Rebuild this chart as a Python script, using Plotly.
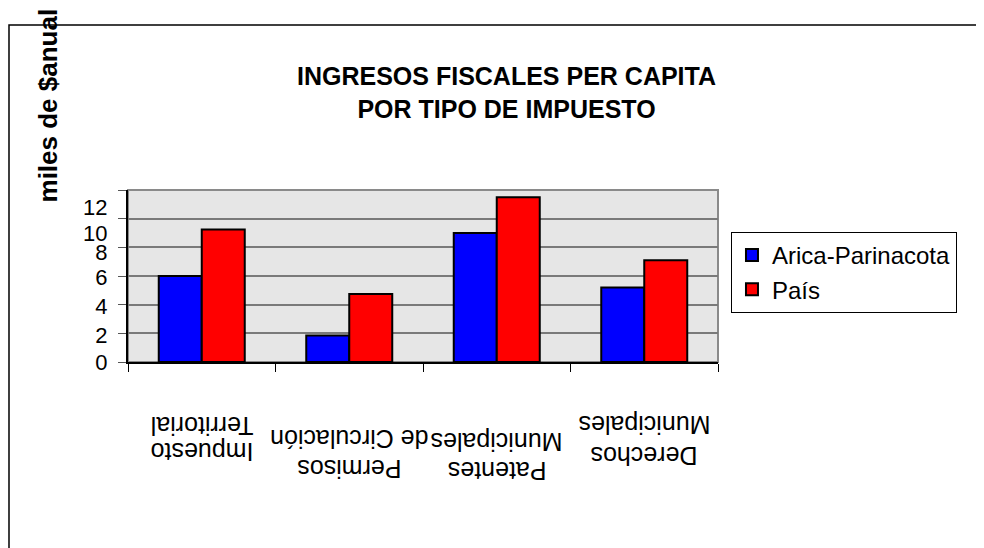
import plotly.graph_objects as go

# ---- data ----
categories = ["Impuesto Territorial", "Permisos de Circulación",
              "Patentes Municipales", "Derechos Municipales"]
series_names = ["Arica-Parinacota", "País"]
arica_values = [6.0, 1.85, 9.0, 5.2]
pais_values = [9.25, 4.75, 11.5, 7.1]
y_ticks = [0, 2, 4, 6, 8, 10, 12]
y_tick_labels = ["0", "2", "4", "6", "8", "10", "12"]
title_text = "INGRESOS FISCALES PER CAPITA<br>POR TIPO DE IMPUESTO"
y_title = "miles de $anual"

FONT = "Liberation Sans, Arial, sans-serif"

fig = go.Figure()
fig.add_trace(go.Bar(x=categories, y=arica_values, name=series_names[0],
                     marker=dict(color="#0000FF", line=dict(color="black", width=2))))
fig.add_trace(go.Bar(x=categories, y=pais_values, name=series_names[1],
                     marker=dict(color="#FF0000", line=dict(color="black", width=2))))

# the reference draws its tick labels slightly off the gridlines
label_pos = [0, 1.86, 3.89, 5.9, 7.67, 8.99, 10.78]
fig.add_trace(go.Scatter(x=[categories[0]], y=[0], yaxis="y2", showlegend=False,
                         mode="markers", marker=dict(opacity=0), hoverinfo="skip"))

# category labels, drawn upside down as in the reference (one annotation per line)
line_y = [(-0.375, -0.520), (-0.451, -0.622), (-0.465, -0.634), (-0.366, -0.547)]
annotations = []
for i, c in enumerate(categories):
    first, rest = c.split(" ", 1)
    for txt, yy in ((first, line_y[i][1]), (rest, line_y[i][0])):
        annotations.append(dict(x=c, y=yy, xref="x", yref="paper",
                                text=txt, textangle=180,
                                showarrow=False, xanchor="center", yanchor="middle",
                                font=dict(family=FONT, size=25, color="black")))
annotations.append(dict(x=-0.136, y=1.49, xref="paper", yref="paper", text="<b>" + y_title + "</b>",
                        textangle=-90, showarrow=False, xanchor="center", yanchor="middle",
                        font=dict(family=FONT, size=26, color="black")))
annotations.append(dict(x=0.6407, y=1.565, xref="paper", yref="paper", text="<b>" + title_text + "</b>",
                        showarrow=False, xanchor="center", yanchor="middle",
                        font=dict(family=FONT, size=25, color="black")))

fig.update_layout(
    width=984, height=548,
    margin=dict(l=120, r=274, t=182, b=194),
    paper_bgcolor="white",
    plot_bgcolor="#E6E6E6",
    barmode="group", bargap=0.417, bargroupgap=0,
    font=dict(family=FONT, size=22, color="black"),
    showlegend=True,
    legend=dict(x=1.022, y=0.756, xanchor="left", yanchor="top",
                bgcolor="white", bordercolor="black", borderwidth=1,
                font=dict(family=FONT, size=24, color="black"),
                traceorder="normal"),
    xaxis=dict(showticklabels=False, ticks="outside", tickson="boundaries",
               ticklen=8, tickcolor="black", tickwidth=1,
               showline=True, linecolor="black", linewidth=1.5,
               showgrid=False, zeroline=False, range=[-0.5, 3.5]),
    yaxis=dict(range=[0, 12], tickmode="array", tickvals=y_ticks,
               showticklabels=False, ticks="outside", ticklen=8,
               tickcolor="#555555", showgrid=True, gridcolor="#7A7A7A",
               gridwidth=1.5, zeroline=False, showline=True,
               linecolor="black", linewidth=1.5),
    yaxis2=dict(range=[0, 12], overlaying="y", side="left", tickmode="array",
                tickvals=label_pos, ticktext=y_tick_labels, showgrid=False,
                zeroline=False, showline=False, ticks="outside", ticklen=8,
                tickcolor="rgba(0,0,0,0)", ticklabelstandoff=7,
                tickfont=dict(family=FONT, size=22, color="black")),
    annotations=annotations,
    shapes=[
        dict(type="rect", xref="paper", yref="paper", x0=0, x1=1, y0=0, y1=1,
             line=dict(color="#8A8A8A", width=2), layer="below"),
        dict(type="rect", xref="paper", yref="paper", x0=-0.2017, x1=1.5,
             y0=-1.4, y1=1.9593, line=dict(color="black", width=1.5)),
    ],
)

fig.write_html("out.html")
